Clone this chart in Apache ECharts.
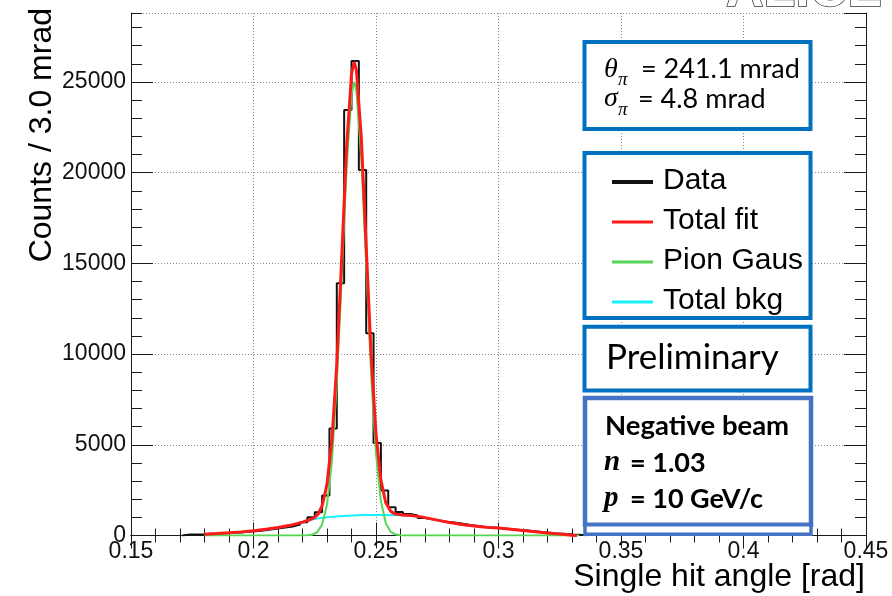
<!DOCTYPE html>
<html>
<head>
<meta charset="utf-8">
<script src="https://cdn.jsdelivr.net/npm/echarts@6/dist/echarts.min.js"></script>
<style>html,body{margin:0;padding:0;background:#fff}#c{width:892px;height:596px}</style>
</head>
<body>
<div id="c"></div>
<script>
// ---- data ----
var xTickLabels = ['0.15', '0.2', '0.25', '0.3', '0.35', '0.4', '0.45'];
var yTickLabels = ['0', '5000', '10000', '15000', '20000', '25000'];
var histStart = 0.171;
var binWidth = 0.003;
var histCounts = [
  50, 50, 50,
  80, 100, 120, 150, 170, 200, 240, 280, 330, 380, 440, 500, 600, 730,
  1000, 1280, 2200, 5900, 13900, 23450, 26150, 20150, 11150, 5100, 2480, 1560, 1300, 1180,
  1100, 960, 900, 830, 760, 720, 660, 590, 540, 480, 440, 410, 380, 330,
  300, 270, 230, 180, 150, 110, 90, 60, 40, 20
];
var totalFitPts = [
  [0.180, 75], [0.185, 110], [0.190, 150], [0.195, 200], [0.200, 260], [0.205, 340], [0.210, 440],
  [0.215, 560], [0.220, 740], [0.223, 870], [0.225, 1000], [0.2265, 1200], [0.228, 1650], [0.229, 2200],
  [0.230, 2850], [0.232, 5250], [0.234, 9450], [0.236, 15300], [0.238, 21400], [0.240, 25450],
  [0.2411, 26100], [0.242, 25650], [0.244, 21950], [0.246, 15950], [0.248, 10000], [0.250, 5600],
  [0.252, 3050], [0.254, 1800], [0.256, 1330], [0.258, 1180], [0.261, 1130], [0.264, 1100],
  [0.268, 1040], [0.272, 930], [0.276, 820], [0.280, 720], [0.285, 610], [0.290, 520], [0.295, 460],
  [0.300, 410], [0.305, 350], [0.310, 280], [0.315, 210], [0.320, 140], [0.325, 80], [0.330, 20], [0.332, 0]
];
var pionGausPts = [
  [0.180, 0], [0.220, 0], [0.222, 10], [0.224, 45], [0.226, 180], [0.228, 600], [0.230, 1700],
  [0.232, 4100], [0.234, 8400], [0.236, 14200], [0.238, 20300], [0.240, 24300], [0.2411, 25000],
  [0.242, 24550], [0.244, 20800], [0.246, 14850], [0.248, 8900], [0.250, 4500], [0.252, 1900],
  [0.254, 680], [0.256, 200], [0.258, 50], [0.260, 10], [0.262, 0], [0.333, 0]
];
var totalBkgPts = [
  [0.180, 75], [0.185, 110], [0.190, 150], [0.195, 200], [0.200, 260], [0.205, 340], [0.210, 440],
  [0.215, 560], [0.220, 740], [0.223, 850], [0.226, 930], [0.230, 1000], [0.235, 1060], [0.240, 1100],
  [0.245, 1125], [0.250, 1135], [0.255, 1135], [0.260, 1120], [0.264, 1095], [0.268, 1040],
  [0.272, 930], [0.276, 820], [0.280, 720], [0.285, 610], [0.290, 520], [0.295, 460],
  [0.300, 410], [0.305, 350], [0.310, 280], [0.315, 210], [0.320, 140], [0.325, 80], [0.330, 20], [0.332, 0]
];
var legendNames = ['Data', 'Total fit', 'Pion Gaus', 'Total bkg'];
var legendColors = ['#111111', '#ff1a1a', '#55d655', '#19f0ff'];

// ---- build ----
var histData = [];
for (var i = 0; i < histCounts.length; i++) {
  var e = +(histStart + i * binWidth).toFixed(3);
  if (i === 0) histData.push([e, 0]);
  histData.push([e, histCounts[i]]);
}
histData.push([+(histStart + histCounts.length * binWidth).toFixed(3), 0]);

var AX = '#1a1a1a';
var TF = 'Liberation Sans';
var BF = 'Lato';
function fmtX(v) {
  var s = String(+(+v).toFixed(2));
  return xTickLabels.indexOf(s) >= 0 ? s : '';
}
function fmtY(v) {
  var s = String(Math.round(v));
  return yTickLabels.indexOf(s) >= 0 ? s : '';
}
var gridLine = {show: true, lineStyle: {type: [1, 2], color: '#8a8a8a', width: 1}};

var xBase = {type: 'value', min: 0.15, max: 0.45, interval: 0.05, gridIndex: 0};
var yBase = {type: 'value', min: 0, max: 28800, gridIndex: 0};

var graphics = [];
function rect(x, y, w, h, color, lw) {
  graphics.push({type: 'rect', z: 100, shape: {x: x, y: y, width: w, height: h},
    style: {fill: '#fff', stroke: color, lineWidth: lw}});
}
function txt(x, y, t, font, extra) {
  var st = {text: t, font: font, fill: '#000', align: 'left', verticalAlign: 'middle'};
  if (extra) for (var k in extra) st[k] = extra[k];
  graphics.push({type: 'text', z: 101, x: x, y: y, style: st});
}
// parameter box
rect(584.5, 42, 226, 87, '#0070C0', 4);
txt(604, 70, 'θ', 'italic 28px "Liberation Serif"');
txt(618, 80, 'π', 'italic 19px "Liberation Serif"');
txt(641, 69, '= 241.1 mrad', '27px ' + BF);
txt(604, 99, 'σ', 'italic 28px "Liberation Serif"');
txt(618, 110, 'π', 'italic 19px "Liberation Serif"');
txt(638, 99, '= 4.8 mrad', '27px ' + BF);
// legend box
rect(584.5, 153, 226, 165, '#0070C0', 4);
var rowY = [182, 222, 262, 302];
var lw = [4, 3, 3, 3];
for (var j = 0; j < legendNames.length; j++) {
  graphics.push({type: 'line', z: 101, shape: {x1: 612, y1: rowY[j], x2: 653, y2: rowY[j]},
    style: {stroke: legendColors[j], lineWidth: lw[j]}});
  txt(663, rowY[j] - 1, legendNames[j], '30px "' + TF + '"');
}
// preliminary box
rect(584.5, 326.7, 226, 63.8, '#0070C0', 4);
txt(606, 358, 'Preliminary', '35px ' + BF);
// beam box
rect(585, 398, 226, 126.7, '#4472C4', 4.5);
rect(585, 524.7, 226, 9.6, '#4472C4', 3.5);
txt(605, 426, 'Negative beam', 'bold 27.5px ' + BF);
txt(604, 463, 'n', 'bold italic 29px "Liberation Serif"');
txt(630, 463, '= 1.03', 'bold 27px ' + BF);
txt(604, 499, 'p', 'bold italic 29px "Liberation Serif"');
txt(630, 499, '= 10 GeV/c', 'bold 27px ' + BF);
// axis titles
txt(865, 577, 'Single hit angle [rad]', '32px "' + TF + '"', {align: 'right'});
graphics.push({type: 'text', z: 101, x: 42, y: 8, rotation: Math.PI / 2,
  style: {text: 'Counts / 3.0 mrad', font: '32px "' + TF + '"', fill: '#000', align: 'right', verticalAlign: 'middle'}});
// partial logo at top right
graphics.push({type: 'text', z: 101, x: 726, y: 18,
  style: {text: 'ALICE', font: 'bold 52px "' + TF + '"', fill: '#fff', stroke: '#333', lineWidth: 1.5,
    align: 'left', verticalAlign: 'bottom'}});

var option = {
  animation: false,
  backgroundColor: '#fff',
  grid: [{left: 131, right: 26, top: 13, bottom: 60.5, containLabel: false}],
  xAxis: [
    Object.assign({}, xBase, {
      position: 'bottom',
      axisLine: {show: true, lineStyle: {color: AX, width: 1}},
      axisTick: {show: true, inside: true, length: 13, lineStyle: {color: AX}},
      minorTick: {show: true, splitNumber: 5, length: 7, lineStyle: {color: AX}},
      axisLabel: {show: true, fontSize: 23, fontFamily: TF, color: '#111', margin: 5, formatter: fmtX},
      splitLine: gridLine
    }),
    Object.assign({}, xBase, {
      position: 'top',
      axisLine: {show: true, lineStyle: {color: AX, width: 1}},
      axisTick: {show: true, inside: true, length: 13, lineStyle: {color: AX}},
      minorTick: {show: true, splitNumber: 5, length: 7, lineStyle: {color: AX}},
      axisLabel: {show: false},
      splitLine: {show: false}
    })
  ],
  yAxis: [
    Object.assign({}, yBase, {
      position: 'left', interval: 5000,
      axisLine: {show: true, lineStyle: {color: AX, width: 1}},
      axisTick: {show: true, inside: true, length: 22, lineStyle: {color: AX}},
      axisLabel: {show: true, fontSize: 23, fontFamily: TF, color: '#111', margin: 5,
        showMaxLabel: false, formatter: fmtY},
      splitLine: gridLine
    }),
    Object.assign({}, yBase, {
      position: 'left', interval: 1000,
      axisLine: {show: false},
      axisTick: {show: true, inside: true, length: 11, lineStyle: {color: AX}},
      axisLabel: {show: false}, splitLine: {show: false}
    }),
    Object.assign({}, yBase, {
      position: 'right', interval: 5000,
      axisLine: {show: true, lineStyle: {color: AX, width: 1}},
      axisTick: {show: true, inside: true, length: 22, lineStyle: {color: AX}},
      axisLabel: {show: false}, splitLine: {show: false}
    }),
    Object.assign({}, yBase, {
      position: 'right', interval: 1000,
      axisLine: {show: false},
      axisTick: {show: true, inside: true, length: 11, lineStyle: {color: AX}},
      axisLabel: {show: false}, splitLine: {show: false}
    })
  ],
  series: [
    {name: 'Data', type: 'line', step: 'end', data: histData, symbol: 'none',
      lineStyle: {color: legendColors[0], width: 2}, z: 3},
    {name: 'Total bkg', type: 'line', data: totalBkgPts, symbol: 'none',
      lineStyle: {color: legendColors[3], width: 2}, z: 4},
    {name: 'Pion Gaus', type: 'line', data: pionGausPts, symbol: 'none',
      lineStyle: {color: legendColors[2], width: 2}, z: 5},
    {name: 'Total fit', type: 'line', data: totalFitPts, symbol: 'none',
      lineStyle: {color: legendColors[1], width: 3}, z: 6}
  ],
  graphic: graphics
};
var chart = echarts.init(document.getElementById('c'), null, {renderer: 'canvas'});
chart.setOption(option);
</script>
</body>
</html>
